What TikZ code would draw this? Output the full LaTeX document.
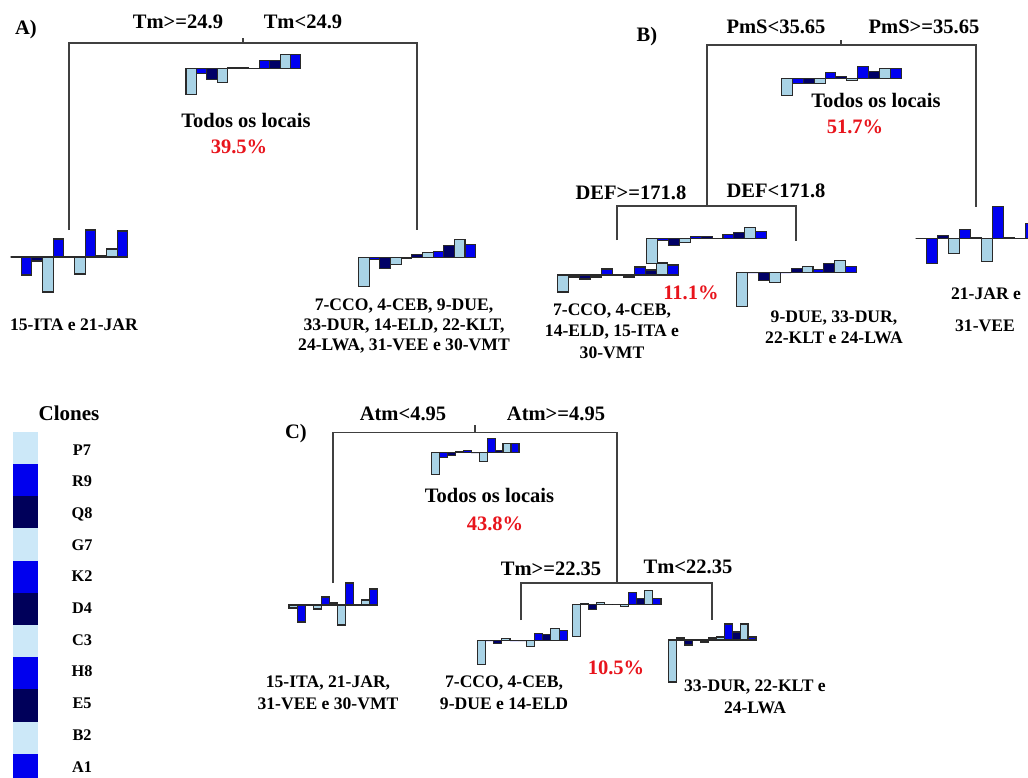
\documentclass[tikz,border=0pt]{standalone}
\usepackage{fontspec}
\setmainfont{Liberation Serif}
\definecolor{lb}{HTML}{A9D3E6}
\definecolor{bl}{HTML}{0000F0}
\definecolor{nv}{HTML}{000066}
\definecolor{glb}{HTML}{CCE8F8}
\definecolor{gbl}{HTML}{0000EE}
\definecolor{gnv}{HTML}{00005A}
\definecolor{rd}{HTML}{E8141C}
\definecolor{ln}{HTML}{404040}
\definecolor{bo}{HTML}{2A2A2A}
\tikzset{
  tree/.style={draw=ln, line width=1.2pt},
  bar/.style={draw=bo, line width=0.8pt},
  barline/.style={draw=black, line width=1pt},
  big/.style={font=\bfseries\fontsize{15.4}{18}\selectfont, anchor=base, inner sep=0pt},
  pct/.style={big, text=rd},
  lab/.style={font=\bfseries\fontsize{13.2}{15.4}\selectfont, anchor=base, inner sep=0pt},
  leg/.style={font=\bfseries\fontsize{12.2}{14}\selectfont, anchor=base, inner sep=0pt},
}
\newcommand{\bchart}[4]{%
  \draw[barline] (#1,#2) -- ({#1+11*#3},#2);
  \foreach \v [count=\i from 0] in {#4} {
    \pgfmathtruncatemacro\cc{mod(\i,3)}
    \ifcase\cc \def\fc{lb}\or \def\fc{bl}\or \def\fc{nv}\fi
    \filldraw[bar, fill=\fc] ({#1+\i*#3},#2) rectangle ({#1+(\i+1)*#3},{#2-\v});
  }
}
\begin{document}
\begin{tikzpicture}[x=0.75pt, y=-0.75pt]
\useasboundingbox (0,0) rectangle (1028,778);
\clip (0,0) rectangle (1028,778);

% ---------------- Panel A ----------------
\node[big] (Alab) at (26,34) {A)};
\node[big] (Ac1) at (178,28) {Tm>=24.9};
\node[big] (Ac2) at (303,28) {Tm<24.9};
\coordinate (Aroot) at (243,43);
\coordinate (Atick) at (243,38);
\coordinate (AL) at (69,230);
\coordinate (AR) at (417,230);
\draw[tree] (AL) |- (Aroot) -| (AR);
\draw[tree] (Aroot) -- (Atick);
\bchart{186}{68.3}{10.45}{-26,-5,-11,-14,1,1,0,8,8,14,14}
\node[big] (Atodos) at (246,127) {Todos os locais};
\node[pct] (Apct) at (239,153) {39.5\%};
\bchart{10.5}{257}{10.67}{0,-18,-4,-35,18,0,-17,27,1,8,26}
\node[lab] (Aleft) at (74,330) {15-ITA e 21-JAR};
\bchart{358.5}{257.5}{10.65}{-29,-2,-11,-7,-1,3,5,6,12,18,13}
\node[lab] (Ar1) at (404,310) {7-CCO, 4-CEB, 9-DUE,};
\node[lab] (Ar2) at (404,330) {33-DUR, 14-ELD, 22-KLT,};
\node[lab] (Ar3) at (404,350) {24-LWA, 31-VEE e 30-VMT};

% ---------------- Panel B ----------------
\node[big] (Blab) at (647,41) {B)};
\node[big] (Bc1) at (776,33) {PmS<35.65};
\node[big] (Bc2) at (924,33) {PmS>=35.65};
\coordinate (Broot) at (841,45);
\coordinate (Btick) at (841,40);
\coordinate (Bsub) at (707,206);
\coordinate (BR) at (976,207);
\coordinate (BLL) at (617,240);
\coordinate (BLR) at (796,241);
\draw[tree] (Bsub) |- (Broot) -| (BR);
\draw[tree] (Broot) -- (Btick);
\draw[tree] (BLL) |- (Bsub) -| (BLR);
\node[big] (Bd1) at (631,199) {DEF>=171.8};
\node[big] (Bd2) at (776,197) {DEF<171.8};
\bchart{781.7}{78.3}{10.85}{-17,-5,-5,-5,6,2,-2,12,7,10,10}
\node[big] (Btodos) at (876,107) {Todos os locais};
\node[pct] (Bpct) at (855,133) {51.7\%};
\bchart{557.3}{275}{11}{-17,-2,-4,-2,6,0,-2,8,5,12,10}
\bchart{646.7}{238.3}{10.9}{-25,-2,-7,-4,2,2,0,4,6,11,7}
\node[pct] (Bpct2) at (691,299) {11.1\%};
\node[lab] (Bl1) at (612,315) {7-CCO, 4-CEB,};
\node[lab] (Bl2) at (612,336.5) {14-ELD, 15-ITA e};
\node[lab] (Bl3) at (612,358) {30-VMT};
\bchart{736.7}{272.7}{10.9}{-34,0,-8,-10,0,4,6,3,9,12,6}
\node[lab] (Bm1) at (834,322) {9-DUE, 33-DUR,};
\node[lab] (Bm2) at (834,343) {22-KLT e 24-LWA};
\bchart{915.7}{238.3}{11}{0,-25,3,-15,9,1,-23,32,0.5,0,15}
\node[lab] (Br1) at (986,299) {21-JAR e};
\node[lab] (Br2) at (985,331) {31-VEE};

% ---------------- Panel C ----------------
\node[big] (Clab) at (296,438) {C)};
\node[big] (Cc1) at (403,420) {Atm<4.95};
\node[big] (Cc2) at (556,420) {Atm>=4.95};
\coordinate (Croot) at (475,432.5);
\coordinate (Ctick) at (475,425);
\coordinate (CL) at (333,583);
\coordinate (Csub) at (617,583);
\coordinate (CML) at (521,620);
\coordinate (CMR) at (712,620);
\draw[tree] (CL) |- (Croot) -| (Csub);
\draw[tree] (Croot) -- (Ctick);
\draw[tree] (CML) |- (Csub) -| (CMR);
\node[big] (Ct1) at (551,575) {Tm>=22.35};
\node[big] (Ct2) at (688,573) {Tm<22.35};
\bchart{431.2}{452.5}{7.98}{-22,-5,-3,1,2,0,-9,14,2,9,9}
\node[big] (Ctodos) at (489.5,502) {Todos os locais};
\node[pct] (Cpct) at (495,530) {43.8\%};
\bchart{289}{605}{8.06}{-3,-17,0,-4,8,2,-20,22,0,5,16}
\node[lab] (Cl1) at (328,687) {15-ITA, 21-JAR,};
\node[lab] (Cl2) at (328,709) {31-VEE e 30-VMT};
\bchart{477.3}{640.7}{8.18}{-24,0,-3,2,0,0,-6,7,6,12,10}
\bchart{572.3}{604.3}{8.06}{-32,1,-5,2,0,0,-2,12,6,14,6}
\node[pct] (Cpct2) at (616,674) {10.5\%};
\node[lab] (Cm1) at (504,687) {7-CCO, 4-CEB,};
\node[lab] (Cm2) at (504,709) {9-DUE e 14-ELD};
\bchart{668.3}{640}{7.97}{-42,2,-5,0,-2,2,3,16,8,16,3}
\node[lab] (Cr1) at (755,691) {33-DUR, 22-KLT e};
\node[lab] (Cr2) at (755,713) {24-LWA};

% ---------------- Legend ----------------
\node[font=\bfseries\fontsize{15.8}{18}\selectfont, anchor=base, inner sep=0pt] (Clones) at (69,420) {Clones};
\foreach \nm [count=\k from 0] in {P7,R9,Q8,G7,K2,D4,C3,H8,E5,B2,A1} {
  \pgfmathtruncatemacro\cc{mod(\k,3)}
  \ifcase\cc \def\fc{glb}\or \def\fc{gbl}\or \def\fc{gnv}\fi
  \fill[\fc] (13.3,{431.7+32.2*\k}) rectangle (37.7,{431.7+32.2*(\k+1)});
  \node[leg] (L\nm) at (82,{455+31.7*\k}) {\nm};
}
\end{tikzpicture}
\end{document}
